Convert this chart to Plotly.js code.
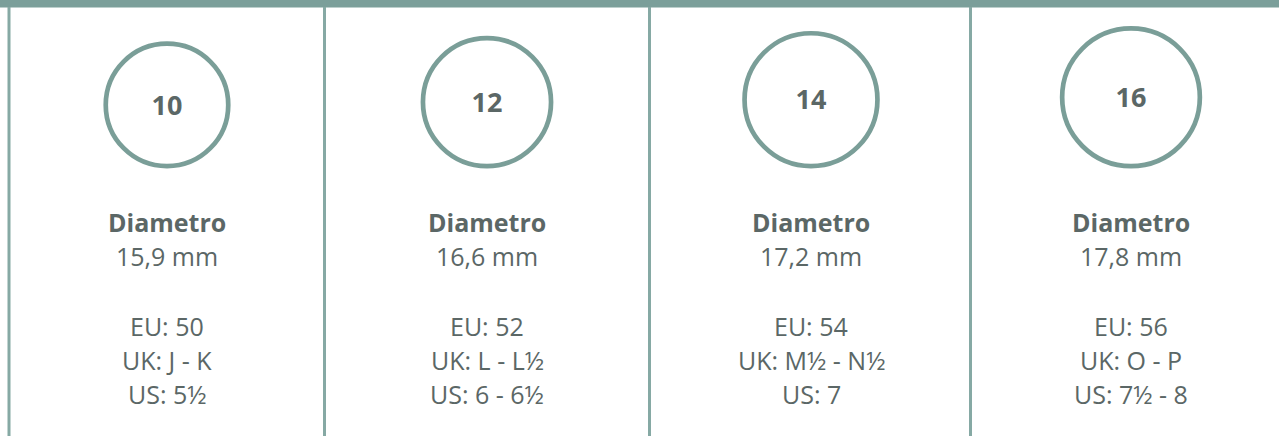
<!DOCTYPE html>
<html>
<head>
<meta charset="utf-8">
<script src="https://cdn.plot.ly/plotly-3.0.1.min.js"></script>
<style>html,body{margin:0;padding:0;background:#fff;}#chart{width:1279px;height:436px;}</style>
</head>
<body>
<div id="chart"></div>
<script>
// Data
var sizes = ['10', '12', '14', '16'];
var diameters = [15.9, 16.6, 17.2, 17.8];
var diameterLabels = ['15,9 mm', '16,6 mm', '17,2 mm', '17,8 mm'];
var euSizes = ['EU: 50', 'EU: 52', 'EU: 54', 'EU: 56'];
var ukSizes = ['UK: J - K', 'UK: L - L½', 'UK: M½ - N½', 'UK: O - P'];
var usSizes = ['US: 5½', 'US: 6 - 6½', 'US: 7', 'US: 7½ - 8'];

// Layout constants (pixel-like coordinate system)
var W = 1279, H = 436;
var colCenters = [167, 487, 811, 1131];
var dividers = [9, 324.5, 649.5, 970.5];
var barColor = '#7b9f9a';
var lineColor = '#86a9a4';
var ringColor = '#7a9e98';
var textColor = '#5b6766';
var font = 'Open Sans, Noto Sans, sans-serif';
var pxPerMm = 8;
var ringBottom = 168.5;
var ringStroke = 4.7;

var shapes = [];
shapes.push({type:'rect', xref:'x', yref:'y', x0:0, x1:W, y0:0, y1:7.5,
  fillcolor:barColor, line:{width:0}, layer:'above'});
dividers.forEach(function(d){
  shapes.push({type:'line', xref:'x', yref:'y', x0:d, x1:d, y0:7, y1:H,
    line:{color:lineColor, width:3}});
});

var ringCy = [];
var labelY = [];
diameters.forEach(function(mm, i){
  var rOuter = mm * pxPerMm / 2;
  var r = rOuter - ringStroke/2;
  var cy = ringBottom - rOuter;
  ringCy.push(cy);
  labelY.push(cy + 3);
  shapes.push({type:'circle', xref:'x', yref:'y',
    x0:colCenters[i]-r, x1:colCenters[i]+r, y0:cy-r, y1:cy+r,
    line:{color:ringColor, width:ringStroke}});
});

var annotations = [];
function addText(x, y, txt, size, bold){
  annotations.push({xref:'x', yref:'y', x:x, y:y, text: bold ? '<b>'+txt+'</b>' : txt,
    showarrow:false, xanchor:'center', yanchor:'middle',
    font:{family:font, size:size, color:textColor}});
}
sizes.forEach(function(s, i){
  var cx = colCenters[i];
  addText(cx, 221.5, 'Diametro', 25, true);
  addText(cx, 256, diameterLabels[i], 25, false);
  addText(cx, 326, euSizes[i], 25, false);
  addText(cx, 360, ukSizes[i], 25, false);
  addText(cx, 394, usSizes[i], 25, false);
});

var trace = {
  x: colCenters, y: labelY, text: sizes, mode:'text', type:'scatter',
  textposition:'middle center',
  textfont:{family:font, size:27, color:textColor, weight:'bold'},
  hoverinfo:'skip', showlegend:false
};

var layout = {
  width:W, height:H, margin:{l:0,r:0,t:0,b:0},
  paper_bgcolor:'#ffffff', plot_bgcolor:'#ffffff',
  xaxis:{range:[0,W], visible:false, fixedrange:true},
  yaxis:{range:[H,0], visible:false, fixedrange:true},
  shapes:shapes, annotations:annotations, showlegend:false
};
Plotly.newPlot('chart', [trace], layout, {staticPlot:true, displayModeBar:false});
</script>
</body>
</html>
